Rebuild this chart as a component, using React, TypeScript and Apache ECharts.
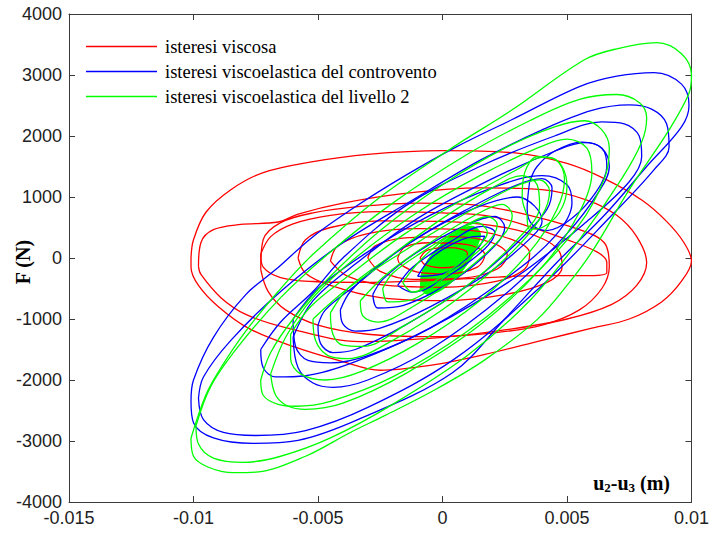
import React, { useEffect, useRef } from "react";
import * as echarts from "echarts";

type Pt = [number, number];

// ---- axis ticks ----
const xMin = -0.015;
const xMax = 0.01;
const xStep = 0.005;
const yMin = -4000;
const yMax = 4000;
const yStep = 1000;

const legendNames = [
  "isteresi viscosa",
  "isteresi viscoelastica del controvento",
  "isteresi viscoelastica del livello 2",
];

// ---- red loops (isteresi viscosa) ----
const r1: Pt[] = [[-0.0101,0],[-0.0100,300],[-0.0095,750],[-0.0085,1120],[-0.0072,1400],[-0.0052,1580],[-0.0030,1700],[0.0000,1760],[0.0030,1720],[0.0050,1550],[0.0065,1300],[0.0080,950],[0.0090,600],[0.0097,250],[0.0100,-50],[0.0096,-380],[0.0088,-720],[0.0075,-1000],[0.0060,-1150],[0.0040,-1350],[0.0015,-1600],[-0.0005,-1760],[-0.0025,-1840],[-0.0040,-1700],[-0.0060,-1450],[-0.0078,-1150],[-0.0090,-800],[-0.0098,-450],[-0.0101,-150],[-0.0101,0]];
const r2: Pt[] = [[-0.0098,-140],[-0.0097,255],[-0.0092,465],[-0.0081,550],[-0.0066,590],[-0.0058,720],[-0.0040,900],[-0.0015,1060],[0.0015,1150],[0.0040,1120],[0.0058,950],[0.0070,700],[0.0078,350],[0.0082,-75],[0.0078,-450],[0.0068,-760],[0.0050,-1000],[0.0025,-1180],[0.0000,-1300],[-0.0033,-1370],[-0.0063,-1140],[-0.0079,-925],[-0.0089,-650],[-0.0097,-270],[-0.0098,-140]];
const r3: Pt[] = [[-0.0073,-190],[-0.0072,300],[-0.0065,580],[-0.0052,740],[-0.0033,845],[-0.0010,900],[0.0015,860],[0.0035,700],[0.0055,465],[0.0065,250],[0.0067,-140],[0.0064,-500],[0.0055,-850],[0.0040,-1100],[0.0020,-1230],[-0.0005,-1290],[-0.0030,-1250],[-0.0050,-1100],[-0.0063,-850],[-0.0070,-550],[-0.0073,-190]];
const r4: Pt[] = [[-0.0073,60],[-0.0069,350],[-0.0060,560],[-0.0045,700],[-0.0025,760],[0.0000,740],[0.0020,680],[0.0035,515],[0.0050,300],[0.0062,100],[0.0066,-70],[0.0066,-240],[0.0057,-290],[0.0038,-290],[0.0015,-330],[-0.0010,-380],[-0.0033,-400],[-0.0052,-385],[-0.0065,-320],[-0.0072,-150],[-0.0073,60]];
const r5: Pt[] = [[-0.0058,0],[-0.0055,300],[-0.0045,500],[-0.0025,610],[0.0000,600],[0.0025,500],[0.0040,320],[0.0047,100],[0.0048,-150],[0.0042,-400],[0.0025,-600],[0.0000,-700],[-0.0025,-650],[-0.0045,-450],[-0.0055,-250],[-0.0058,0]];
const r6: Pt[] = [[-0.0045,-50],[-0.0042,200],[-0.0030,400],[-0.0010,480],[0.0012,450],[0.0028,300],[0.0035,80],[0.0033,-180],[0.0022,-380],[0.0000,-480],[-0.0022,-450],[-0.0038,-300],[-0.0045,-50]];
const r7: Pt[] = [[-0.0030,0],[-0.0027,200],[-0.0015,330],[0.0005,350],[0.0020,250],[0.0026,50],[0.0022,-180],[0.0008,-330],[-0.0012,-350],[-0.0025,-220],[-0.0030,0]];
const r8: Pt[] = [[-0.0018,0],[-0.0015,180],[-0.0005,250],[0.0010,220],[0.0017,50],[0.0014,-150],[0.0002,-260],[-0.0010,-230],[-0.0017,-100],[-0.0018,0]];
const r9: Pt[] = [[-0.0009,0],[-0.0006,130],[0.0003,170],[0.0010,80],[0.0009,-80],[0.0000,-160],[-0.0007,-110],[-0.0009,0]];

// ---- blue loops (controvento) ----
const b1: Pt[] = [[-0.0101,-2350],[-0.0100,-2700],[-0.0092,-2950],[-0.0076,-3040],[-0.0058,-2990],[-0.0034,-2650],[0.0004,-1880],[0.0025,-1000],[0.0046,-70],[0.0065,700],[0.0082,1500],[0.0096,2150],[0.0099,2500],[0.0096,2850],[0.0085,3040],[0.0070,2980],[0.0055,2810],[0.0028,2270],[0.0005,1810],[-0.0015,1350],[-0.0035,840],[-0.0052,350],[-0.0067,-190],[-0.0079,-600],[-0.0092,-1300],[-0.0100,-2000],[-0.0101,-2350]];
const b2: Pt[] = [[-0.0098,-2300],[-0.0096,-2650],[-0.0088,-2860],[-0.0075,-2910],[-0.0055,-2830],[-0.0030,-2450],[0.0005,-1650],[0.0040,-450],[0.0068,700],[0.0085,1450],[0.0091,1820],[0.0090,2200],[0.0084,2440],[0.0075,2510],[0.0060,2420],[0.0040,2100],[0.0015,1600],[-0.0012,950],[-0.0040,250],[-0.0065,-550],[-0.0085,-1350],[-0.0096,-1950],[-0.0098,-2300]];
const b3: Pt[] = [[-0.0073,-1500],[-0.0072,-1800],[-0.0067,-1950],[-0.0055,-1930],[-0.0035,-1700],[-0.0005,-1150],[0.0030,-300],[0.0058,600],[0.0075,1250],[0.0080,1660],[0.0079,2000],[0.0073,2200],[0.0064,2230],[0.0045,2000],[0.0015,1500],[-0.0015,850],[-0.0040,0],[-0.0052,-550],[-0.0065,-1050],[-0.0073,-1500]];
const b4: Pt[] = [[-0.0060,-1300],[-0.0058,-1800],[-0.0052,-2050],[-0.0044,-2120],[-0.0030,-2000],[-0.0005,-1500],[0.0025,-600],[0.0050,400],[0.0063,1100],[0.0067,1500],[0.0064,1800],[0.0057,1890],[0.0045,1750],[0.0020,1300],[-0.0010,650],[-0.0035,-100],[-0.0052,-700],[-0.0060,-1300]];
const b5: Pt[] = [[-0.0060,-1000],[-0.0059,-1450],[-0.0054,-1680],[-0.0045,-1720],[-0.0030,-1600],[-0.0005,-1150],[0.0025,-350],[0.0045,350],[0.0052,900],[0.0050,1200],[0.0040,1350],[0.0020,1150],[-0.0005,700],[-0.0030,100],[-0.0050,-500],[-0.0060,-1000]];
const b6: Pt[] = [[-0.0041,-850],[-0.0040,-1080],[-0.0035,-1200],[-0.0025,-1150],[-0.0005,-800],[0.0020,-200],[0.0036,350],[0.0040,600],[0.0037,850],[0.0030,1000],[0.0015,850],[-0.0005,450],[-0.0025,-100],[-0.0037,-550],[-0.0041,-850]];
const b7: Pt[] = [[-0.0028,-600],[-0.0026,-820],[-0.0016,-780],[0.0005,-350],[0.0021,200],[0.0025,500],[0.0021,680],[0.0010,550],[-0.0010,100],[-0.0024,-350],[-0.0028,-600]];
const b8: Pt[] = [[-0.0018,-450],[-0.0012,-560],[0.0002,-300],[0.0017,150],[0.0021,420],[0.0016,520],[0.0003,260],[-0.0012,-150],[-0.0018,-450]];
const b9: Pt[] = [[-0.0010,-300],[0.0000,-260],[0.0014,150],[0.0017,360],[0.0009,320],[-0.0004,20],[-0.0010,-300]];
const b10: Pt[] = [[0.0035,1250],[0.0034,800],[0.0036,550],[0.0042,450],[0.0052,650],[0.0062,1100],[0.0066,1500],[0.0064,1800],[0.0056,1900],[0.0045,1750],[0.0038,1500],[0.0035,1250]];
const b11: Pt[] = [[-0.0050,-1100],[-0.0049,-1400],[-0.0044,-1550],[-0.0035,-1500],[-0.0015,-1100],[0.0010,-450],[0.0030,250],[0.0042,800],[0.0044,1150],[0.0040,1300],[0.0030,1200],[0.0010,800],[-0.0015,200],[-0.0035,-450],[-0.0047,-850],[-0.0050,-1100]];

// ---- green loops (livello 2) ----
const g1: Pt[] = [[-0.0101,-2950],[-0.0100,-3250],[-0.0094,-3430],[-0.0084,-3520],[-0.0075,-3510],[-0.0055,-3250],[-0.0037,-2860],[-0.0023,-2580],[-0.0003,-2160],[0.0017,-1670],[0.0038,-1010],[0.0050,-450],[0.0060,100],[0.0075,1120],[0.0091,2100],[0.0099,2700],[0.0100,3000],[0.0096,3350],[0.0086,3530],[0.0070,3430],[0.0057,3250],[0.0028,2430],[0.0004,1810],[-0.0025,1000],[-0.0052,60],[-0.0066,-550],[-0.0079,-1200],[-0.0089,-1800],[-0.0095,-2240],[-0.0101,-2950]];
const g2: Pt[] = [[-0.0099,-2750],[-0.0098,-3050],[-0.0092,-3280],[-0.0080,-3350],[-0.0065,-3250],[-0.0045,-2950],[-0.0020,-2400],[0.0010,-1600],[0.0035,-700],[0.0055,300],[0.0072,1300],[0.0080,1900],[0.0082,2300],[0.0079,2550],[0.0070,2680],[0.0055,2600],[0.0035,2250],[0.0010,1700],[-0.0020,900],[-0.0045,100],[-0.0065,-650],[-0.0082,-1450],[-0.0093,-2100],[-0.0099,-2750]];
const g3: Pt[] = [[-0.0073,-2000],[-0.0072,-2250],[-0.0066,-2400],[-0.0059,-2430],[-0.0045,-2350],[-0.0020,-1950],[0.0010,-1200],[0.0035,-350],[0.0055,550],[0.0065,1300],[0.0067,1800],[0.0064,2100],[0.0057,2250],[0.0045,2150],[0.0025,1800],[0.0000,1200],[-0.0025,450],[-0.0045,-300],[-0.0060,-1000],[-0.0069,-1550],[-0.0073,-2000]];
const g4: Pt[] = [[-0.0069,-1900],[-0.0067,-2250],[-0.0062,-2430],[-0.0055,-2480],[-0.0040,-2380],[-0.0015,-1900],[0.0015,-1100],[0.0040,-150],[0.0055,750],[0.0060,1400],[0.0058,1800],[0.0050,1950],[0.0038,1800],[0.0015,1350],[-0.0010,750],[-0.0035,0],[-0.0052,-650],[-0.0063,-1300],[-0.0069,-1900]];
const g5: Pt[] = [[-0.0061,-1250],[-0.0061,-1650],[-0.0057,-1900],[-0.0047,-2000],[-0.0032,-1850],[-0.0010,-1400],[0.0015,-700],[0.0035,100],[0.0046,800],[0.0049,1300],[0.0046,1600],[0.0040,1650],[0.0030,1450],[0.0010,1000],[-0.0015,400],[-0.0038,-300],[-0.0053,-800],[-0.0061,-1250]];
const g6: Pt[] = [[0.0034,700],[0.0035,470],[0.0040,500],[0.0047,750],[0.0050,1170],[0.0048,1500],[0.0043,1650],[0.0038,1660],[0.0033,1400],[0.0032,1000],[0.0034,700]];
const g7: Pt[] = [[-0.0045,-900],[-0.0044,-1250],[-0.0040,-1430],[-0.0032,-1450],[-0.0015,-1100],[0.0010,-450],[0.0030,300],[0.0039,850],[0.0038,1200],[0.0032,1350],[0.0020,1150],[0.0000,650],[-0.0022,0],[-0.0038,-500],[-0.0045,-900]];
const g8: Pt[] = [[-0.0033,-700],[-0.0032,-950],[-0.0026,-1050],[-0.0012,-800],[0.0008,-250],[0.0024,350],[0.0028,700],[0.0024,880],[0.0013,700],[-0.0005,250],[-0.0022,-250],[-0.0033,-700]];
const g9: Pt[] = [[-0.0024,-500],[-0.0022,-720],[-0.0014,-700],[0.0003,-250],[0.0018,250],[0.0022,550],[0.0018,680],[0.0008,500],[-0.0008,100],[-0.0020,-250],[-0.0024,-500]];
const g10: Pt[] = [[-0.0016,-400],[-0.0012,-560],[-0.0002,-350],[0.0012,100],[0.0018,420],[0.0014,580],[0.0004,400],[-0.0008,0],[-0.0016,-400]];
const g11: Pt[] = [[-0.0052,-1000],[-0.0051,-1350],[-0.0046,-1600],[-0.0038,-1650],[-0.0020,-1350],[0.0005,-700],[0.0028,100],[0.0040,700],[0.0043,1100],[0.0039,1280],[0.0028,1150],[0.0008,700],[-0.0018,50],[-0.0038,-500],[-0.0052,-1000]];
const gCore: Pt[] = [[-0.0009,-520],[-0.0005,-600],[0.0003,-420],[0.0010,-100],[0.0014,200],[0.0015,430],[0.0011,520],[0.0004,380],[-0.0003,120],[-0.0008,-200],[-0.0009,-520]];

const redLoops = [r1, r2, r3, r4, r5, r6, r7, r8, r9];
const blueLoops = [b1, b2, b3, b4, b5, b6, b7, b8, b9, b10, b11];
const greenLoops = [g1, g2, g3, g4, g5, g6, g7, g8, g9, g10, g11];

const RED = "#ff0000";
const BLUE = "#0000ff";
const GREEN = "#00ff00";

const SANS = "'Liberation Sans', Arial, sans-serif";
const SERIF = "'Liberation Serif', 'Times New Roman', serif";

export default function App() {
  const ref = useRef<HTMLDivElement>(null);

  useEffect(() => {
    if (!ref.current) return;
    const chart = echarts.init(ref.current, undefined, { renderer: "svg" });

    const mk = (name: string, color: string, data: Pt[]) => ({
      type: "line",
      name,
      data,
      symbol: "none",
      showSymbol: false,
      smooth: 0.35,
      silent: true,
      lineStyle: { color, width: 1.3 },
      itemStyle: { color },
      xAxisIndex: 0,
      yAxisIndex: 0,
    });

    const series: any[] = [
      ...redLoops.map((d) => mk(legendNames[0], RED, d)),
      ...blueLoops.map((d) => mk(legendNames[1], BLUE, d)),
      ...greenLoops.map((d) => mk(legendNames[2], GREEN, d)),
      {
        type: "custom",
        name: "core",
        data: gCore,
        silent: true,
        xAxisIndex: 0,
        yAxisIndex: 0,
        renderItem: (params: any, api: any) => {
          if (params.dataIndex !== 0) return null;
          const pts = gCore.map((p) => api.coord(p));
          return {
            type: "polygon",
            shape: { points: pts, smooth: 0.4 },
            style: { fill: GREEN, stroke: GREEN, lineWidth: 1 },
          };
        },
      },
    ];

    const axisLine = { show: true, onZero: false, lineStyle: { color: "#3a3a3a", width: 1 } };
    const tick = { show: true, inside: true, length: 6, lineStyle: { color: "#3a3a3a" } };

    chart.setOption({
      animation: false,
      backgroundColor: "#ffffff",
      grid: { left: 69, right: 18, top: 14, bottom: 31 },
      legend: {
        data: legendNames.map((n) => ({ name: n, icon: "rect" })),
        orient: "vertical",
        left: 86,
        top: 37,
        padding: 0,
        itemWidth: 71,
        itemHeight: 1.4,
        itemGap: 6,
        selectedMode: false,
        textStyle: { fontFamily: SERIF, fontSize: 18.5, color: "#000", padding: [0, 0, 0, 3] },
      },
      xAxis: [
        {
          type: "value",
          position: "bottom",
          min: xMin,
          max: xMax,
          interval: xStep,
          axisLine,
          axisTick: tick,
          splitLine: { show: false },
          axisLabel: {
            margin: 8,
            fontFamily: SANS,
            fontSize: 18,
            lineHeight: 16,
            color: "#222",
            formatter: (v: number) => String(parseFloat(v.toFixed(4))),
          },
        },
        {
          type: "value",
          position: "top",
          min: xMin,
          max: xMax,
          interval: xStep,
          axisLine,
          axisTick: tick,
          splitLine: { show: false },
          axisLabel: { show: false },
        },
      ],
      yAxis: [
        {
          type: "value",
          position: "left",
          min: yMin,
          max: yMax,
          interval: yStep,
          axisLine,
          axisTick: tick,
          splitLine: { show: false },
          axisLabel: {
            margin: 7,
            fontFamily: SANS,
            fontSize: 18,
            lineHeight: 16,
            color: "#222",
            formatter: (v: number) => String(v),
          },
        },
        {
          type: "value",
          position: "right",
          min: yMin,
          max: yMax,
          interval: yStep,
          axisLine,
          axisTick: tick,
          splitLine: { show: false },
          axisLabel: { show: false },
        },
      ],
      graphic: [
        {
          type: "text",
          x: 23,
          y: 262,
          rotation: Math.PI / 2,
          style: {
            text: "F (N)",
            fontFamily: SERIF,
            fontWeight: "bold",
            fontSize: 20,
            fill: "#000",
            align: "center",
            verticalAlign: "middle",
          },
        },
        {
          type: "text",
          x: 670,
          y: 483,
          style: {
            text: "{a|u}{s|2}{a|-u}{s|3}{a| (m)}",
            align: "right",
            verticalAlign: "middle",
            fill: "#000",
            rich: {
              a: { fontFamily: SERIF, fontWeight: "bold", fontSize: 20, fill: "#000" },
              s: { fontFamily: SERIF, fontWeight: "bold", fontSize: 13, fill: "#000", padding: [9, 0, 0, 0] },
            },
          },
        },
      ],
      series,
    });

    return () => chart.dispose();
  }, []);

  return (
    <div
      ref={ref}
      style={{ position: "absolute", left: 0, top: 0, width: 712, height: 533, background: "#fff" }}
    />
  );
}
